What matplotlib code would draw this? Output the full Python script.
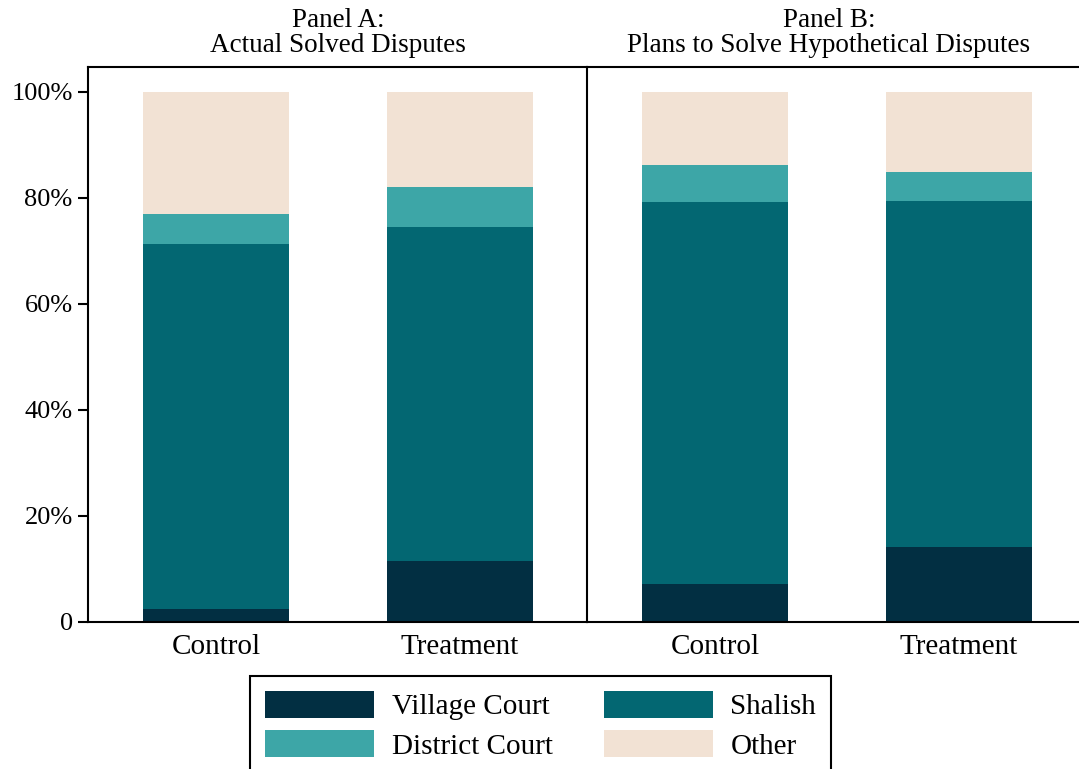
import matplotlib
matplotlib.use("Agg")
import matplotlib.pyplot as plt
import numpy as np

plt.rcParams['font.family'] = ['Liberation Serif', 'DejaVu Serif']

groups = ["Control", "Treatment"]
categories = ["Village Court", "Shalish", "District Court", "Other"]
colors = ["#022f42", "#036772", "#3da6a7", "#f2e2d4"]

# Panel A: Actual Solved Disputes (percent)
panel_a = {
    "Village Court": [2.5, 11.6],
    "Shalish": [68.8, 62.9],
    "District Court": [5.7, 7.6],
    "Other": [23.0, 17.9],
}
# Panel B: Plans to Solve Hypothetical Disputes (percent)
panel_b = {
    "Village Court": [7.2, 14.2],
    "Shalish": [72.0, 65.2],
    "District Court": [7.0, 5.5],
    "Other": [13.8, 15.1],
}
titles = ["Panel A:\nActual Solved Disputes", "Panel B:\nPlans to Solve Hypothetical Disputes"]
yticks = [0, 20, 40, 60, 80, 100]
yticklabels = ["0", "20%", "40%", "60%", "80%", "100%"]

W, H = 1079, 769
fig = plt.figure(figsize=(W / 100, H / 100), dpi=100)

ax_bottom = 1 - 622 / H
ax_height = (622 - 67) / H
ax_w = 499 / W
axA = fig.add_axes([88 / W, ax_bottom, ax_w, ax_height])
axB = fig.add_axes([587 / W, ax_bottom, ax_w, ax_height])

x = np.arange(len(groups))
handles = {}
for ax, data in [(axA, panel_a), (axB, panel_b)]:
    bottom = np.zeros(len(groups))
    for cat, col in zip(categories, colors):
        vals = np.array(data[cat])
        b = ax.bar(x, vals, 0.6, bottom=bottom, color=col, label=cat, linewidth=0)
        bottom += vals
        if ax is axA:
            handles[cat] = b
    ax.set_xlim(-0.525, 1.52)
    ax.set_ylim(0, 104.7)
    ax.set_xticks(x)
    ax.set_xticklabels(groups, fontsize=21)
    ax.tick_params(axis='x', length=0, pad=9)
    for s in ax.spines.values():
        s.set_linewidth(1.5)
        s.set_color("black")

axA.set_yticks(yticks)
axA.set_yticklabels(yticklabels, fontsize=19)
axA.tick_params(axis='y', length=7, width=1.5, pad=4)
axA.spines['right'].set_visible(False)
axB.set_yticks([])
axB.spines['right'].set_visible(False)

fig.text(338 / W, 1 - 58 / H, titles[0], ha='center', va='bottom', fontsize=19.5, linespacing=1.0)
fig.text(829 / W, 1 - 58 / H, titles[1], ha='center', va='bottom', fontsize=19.5, linespacing=1.0)

# legend filled row-wise: Village Court, Shalish / District Court, Other
leg_order = ["Village Court", "District Court", "Shalish", "Other"]
leg = fig.legend(handles=[handles[c] for c in leg_order], labels=leg_order, ncol=2,
                 loc='upper center',
                 bbox_to_anchor=(540.5 / W, 1 - 676 / H), fontsize=21,
                 frameon=True, fancybox=False, edgecolor='black', framealpha=1,
                 handlelength=3.75, handleheight=1.05, handletextpad=0.6,
                 columnspacing=1.75, labelspacing=0.35, borderpad=0.5, borderaxespad=0)
leg.get_frame().set_linewidth(1.5)

fig.savefig("out.png", dpi=100)
